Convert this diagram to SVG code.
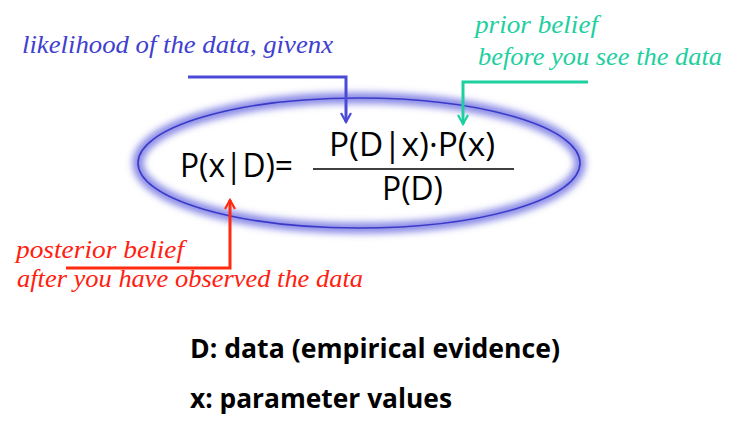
<svg xmlns="http://www.w3.org/2000/svg" width="738" height="437" viewBox="0 0 738 437">
<defs>
<style>
.note{font-family:"Liberation Serif",serif;font-style:italic;font-size:26px}
.math{font-family:"Open Sans","Liberation Sans",sans-serif;font-size:33px;fill:#000}
.legend{font-family:"Open Sans","Liberation Sans",sans-serif;font-weight:bold;font-size:26px;fill:#000}
.conn{fill:none;stroke-width:3}
</style>
<filter id="glow" x="-20%" y="-40%" width="140%" height="180%"><feGaussianBlur stdDeviation="3.5"/></filter>
<marker id="ab" viewBox="0 0 12 12" refX="10" refY="6" markerWidth="12" markerHeight="12" markerUnits="userSpaceOnUse" orient="auto"><path d="M1,1 L10,6 L1,11" fill="none" stroke="#4a4ad6" stroke-width="2.2"/></marker>
<marker id="at" viewBox="0 0 12 12" refX="10" refY="6" markerWidth="12" markerHeight="12" markerUnits="userSpaceOnUse" orient="auto"><path d="M1,1 L10,6 L1,11" fill="none" stroke="#1ecfa0" stroke-width="2.2"/></marker>
<marker id="ar" viewBox="0 0 12 12" refX="10" refY="6" markerWidth="12" markerHeight="12" markerUnits="userSpaceOnUse" orient="auto"><path d="M1,1 L10,6 L1,11" fill="none" stroke="#ff2a10" stroke-width="2.2"/></marker>
</defs>
<rect width="738" height="437" fill="#fff"/>
<g id="ellipse">
<ellipse cx="359" cy="163" rx="221" ry="65" fill="none" stroke="#8888e6" stroke-width="11" filter="url(#glow)"/>
<ellipse cx="359" cy="163" rx="221" ry="65" fill="none" stroke="#3a3ac8" stroke-width="1.6"/>
</g>
<g id="formula">
<text class="math" x="180" y="177" textLength="113" lengthAdjust="spacingAndGlyphs">P(x|D)=</text>
<text class="math" x="329" y="156" textLength="166" lengthAdjust="spacingAndGlyphs">P(D|x)·P(x)</text>
<line x1="313" y1="169" x2="514" y2="169" stroke="#000" stroke-width="1.6"/>
<text class="math" x="382" y="200" textLength="61" lengthAdjust="spacingAndGlyphs">P(D)</text>
</g>
<g id="likelihood">
<text class="note" x="22" y="53" fill="#4040d0" textLength="311" lengthAdjust="spacingAndGlyphs">likelihood of the data, givenx</text>
</g>
<g id="prior">
<text class="note" x="475" y="33" fill="#1ecfa0" textLength="123" lengthAdjust="spacingAndGlyphs">prior belief</text>
<text class="note" x="478" y="65" fill="#1ecfa0" textLength="244" lengthAdjust="spacingAndGlyphs">before you see the data</text>
</g>
<g id="posterior">
<text class="note" x="16" y="258" fill="#ff2010" textLength="168" lengthAdjust="spacingAndGlyphs">posterior belief</text>
<text class="note" x="17" y="287" fill="#ff2010" textLength="346" lengthAdjust="spacingAndGlyphs">after you have observed the data</text>
</g>
<g id="legend">
<text class="legend" x="190" y="358" textLength="370" lengthAdjust="spacingAndGlyphs">D: data (empirical evidence)</text>
<text class="legend" x="190" y="408" textLength="262" lengthAdjust="spacingAndGlyphs">x: parameter values</text>
</g>
<g id="connectors">
<path class="conn" d="M188,77 H346 V122" stroke="#4a4ad6" marker-end="url(#ab)"/>
<path class="conn" d="M588,82 H463 V124" stroke="#1ecfa0" marker-end="url(#at)"/>
<path class="conn" d="M66,268 H230 V200" stroke="#ff2a10" marker-end="url(#ar)"/>
</g>
</svg>
